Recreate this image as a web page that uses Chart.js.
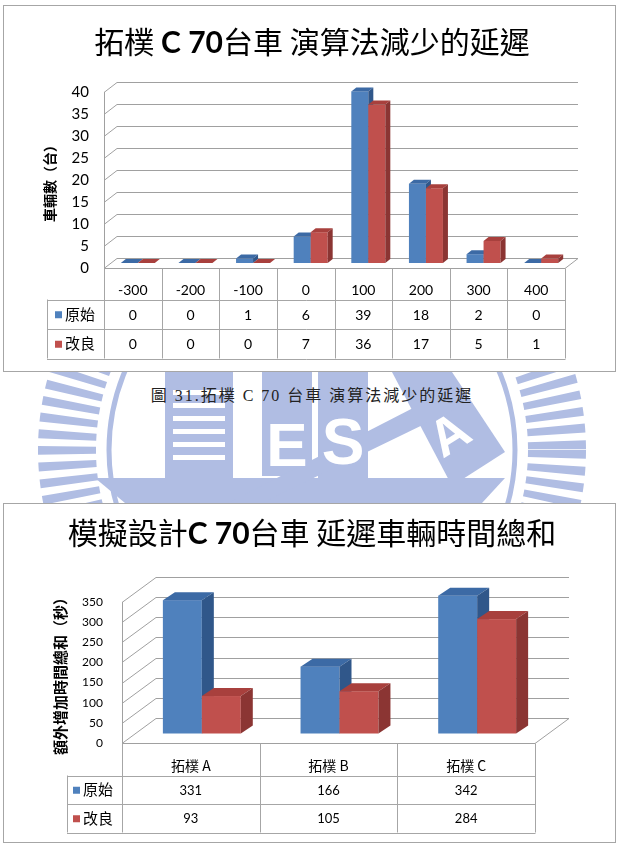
<!DOCTYPE html>
<html>
<head>
<meta charset="utf-8">
<script src="https://cdn.jsdelivr.net/npm/chart.js@4.4.1/dist/chart.umd.min.js"></script>
<style>
  body { margin: 0; width: 624px; height: 849px; position: relative; overflow: hidden; background: #fff;
         font-family: 'Noto Sans CJK TC', sans-serif; }
  #wm { position: absolute; left: 0; top: 0; z-index: 0; }
  .box { position: absolute; left: 3px; width: 613px; box-sizing: border-box; border: 1px solid #a6a6a6; background: #fff; z-index: 1; }
  canvas { position: absolute; left: 3px; z-index: 2; }
  .title { position: absolute; left: 0; width: 624px; text-align: center; font-size: 30px; line-height: 36px;
           color: #000; z-index: 3; white-space: nowrap; }
  .title b { font-family: Lato, 'Open Sans', sans-serif; font-weight: 700; }
  .caption { position: absolute; left: 0; width: 624px; top: 386px; text-align: center; font-size: 16px; line-height: 20px;
             font-family: 'Liberation Serif', 'Noto Sans CJK TC', serif; color: #222; letter-spacing: 2px; z-index: 3; }
</style>
</head>
<body>

<!-- faint school logo watermark behind the two charts -->
<svg id="wm" width="624" height="849">
  <g fill="#b0bde3">
    <circle cx="312" cy="450" r="245" fill="none" stroke="#b0bde3" stroke-width="58" stroke-dasharray="8 7"/>
    <circle cx="312" cy="450" r="203" fill="none" stroke="#b0bde3" stroke-width="5"/>
    <rect x="165" y="372" width="68" height="112"/>
    <rect x="262" y="372" width="50" height="104"/>
    <rect x="318" y="372" width="50" height="110"/>
    <polygon points="392,372 452,372 505,452 452,486"/>
    <polygon points="95,478 505,478 482,503 125,503"/>
    <polygon points="228,503 262,503 470,402 452,388"/>
  </g>
  <g fill="#fff">
    <rect x="173" y="390" width="52" height="5"/>
    <rect x="173" y="403" width="52" height="5"/>
    <rect x="173" y="416" width="52" height="5"/>
    <rect x="173" y="429" width="52" height="5"/>
    <rect x="173" y="442" width="52" height="5"/>
    <rect x="173" y="455" width="52" height="5"/>
    <text x="287" y="466" font-family="Liberation Sans" font-weight="700" font-size="62" text-anchor="middle">E</text>
    <text x="343" y="464" font-family="Liberation Sans" font-weight="700" font-size="64" text-anchor="middle">S</text>
    <text x="448" y="452" font-family="Liberation Sans" font-weight="700" font-size="52" text-anchor="middle" transform="rotate(-32 448 432)">A</text>
  </g>
</svg>

<div class="box" style="top:5px;height:367px"></div>
<div class="box" style="top:503px;height:340px"></div>
<canvas id="delayChart" width="613" height="367" style="top:5px"></canvas>
<canvas id="totalChart" width="613" height="340" style="top:503px"></canvas>
<div class="title" style="top:22px">拓樸 <b>C 70</b>台車 演算法減少的延遲</div>
<div class="title" style="top:513px">模擬設計<b>C 70</b>台車 延遲車輛時間總和</div>
<div class="caption">圖 31.拓樸 C 70 台車 演算法減少的延遲</div>

<script>
// series names
const seriesNames = ['原始', '改良'];

// chart 1: delay distribution
const delayLabels = ['-300', '-200', '-100', '0', '100', '200', '300', '400'];
const delayOriginal = [0, 0, 1, 6, 39, 18, 2, 0];
const delayImproved = [0, 0, 0, 7, 36, 17, 5, 1];

// chart 2: total delayed vehicle time
const topoLabels = ['拓樸 A', '拓樸 B', '拓樸 C'];
const topoOriginal = [331, 166, 342];
const topoImproved = [93, 105, 284];

// front / top / side colours for the 3D bars
const barColors = [
  ['#4f81bd', '#3c6aa5', '#30578a'],
  ['#c0504d', '#a8403d', '#8b3533']
];

const cjk = "'Noto Sans CJK TC', sans-serif";
const num = "Lato, 'Noto Sans CJK TC', sans-serif";

// draws the 3D walls, the extruded bars and the data table under the plot
const box3d = {
  id: 'box3d',
  beforeDatasetsDraw(chart, args, o) {
    const { ctx, chartArea: { left, right, top, bottom }, scales: { y } } = chart;
    ctx.save();
    ctx.strokeStyle = o.gridColor;
    ctx.lineWidth = 1;
    y.ticks.forEach(t => {
      const py = Math.round(y.getPixelForValue(t.value)) + 0.5;
      ctx.beginPath();
      ctx.moveTo(left, py);
      ctx.lineTo(left + o.dx, py - o.dy);
      ctx.lineTo(right + o.dx, py - o.dy);
      ctx.stroke();
    });
    const py0 = Math.round(bottom) + 0.5;
    ctx.beginPath();
    ctx.moveTo(left, py0);
    ctx.lineTo(right, py0);
    ctx.lineTo(right + o.dx, py0 - o.dy);
    ctx.stroke();
    ctx.beginPath();
    ctx.moveTo(Math.round(left) + 0.5, top);
    ctx.lineTo(Math.round(left) + 0.5, bottom);
    ctx.stroke();
    ctx.restore();
  },
  afterDatasetsDraw(chart, args, o) {
    const ctx = chart.ctx;
    ctx.save();
    chart.data.datasets.forEach((ds, i) => {
      const [front, topC, side] = barColors[i];
      chart.getDatasetMeta(i).data.forEach(el => {
        const x0 = el.x - el.width / 2 + o.fx, x1 = el.x + el.width / 2 + o.fx;
        const yt = el.y - o.fy, yb = el.base - o.fy;
        ctx.fillStyle = front;
        ctx.fillRect(x0, yt, x1 - x0, yb - yt);
        ctx.fillStyle = topC;
        ctx.beginPath();
        ctx.moveTo(x0, yt); ctx.lineTo(x0 + o.bx, yt - o.by);
        ctx.lineTo(x1 + o.bx, yt - o.by); ctx.lineTo(x1, yt);
        ctx.closePath(); ctx.fill();
        ctx.fillStyle = side;
        ctx.beginPath();
        ctx.moveTo(x1, yt); ctx.lineTo(x1 + o.bx, yt - o.by);
        ctx.lineTo(x1 + o.bx, yb - o.by); ctx.lineTo(x1, yb);
        ctx.closePath(); ctx.fill();
      });
    });
    ctx.restore();
  },
  afterDraw(chart, args, o) {
    const { ctx, chartArea: { left, right, bottom }, scales: { x } } = chart;
    const labels = chart.data.labels;
    const n = labels.length;
    const cw = (right - left) / n;
    const R = Math.round(right) + 0.5;
    const y0 = Math.round(bottom) + 0.5;
    const yh = y0 + o.headH;
    const rows = chart.data.datasets;
    const yEnd = yh + o.rowH * rows.length;
    ctx.save();
    ctx.strokeStyle = o.lineColor;
    ctx.lineWidth = 1;
    ctx.beginPath();
    for (let i = 0; i <= n; i++) {
      const bx = Math.round(left + i * cw) + 0.5;
      ctx.moveTo(bx, y0); ctx.lineTo(bx, yEnd);
    }
    ctx.moveTo(o.tableLeft + 0.5, yh); ctx.lineTo(o.tableLeft + 0.5, yEnd);
    for (let r = 0; r <= rows.length; r++) {
      const ry = Math.round(yh + r * o.rowH) + 0.5;
      ctx.moveTo(o.tableLeft, ry); ctx.lineTo(R, ry);
    }
    ctx.stroke();

    ctx.fillStyle = '#000';
    ctx.textAlign = 'center';
    ctx.textBaseline = 'middle';
    ctx.font = o.headFont;
    labels.forEach((lab, i) => ctx.fillText(lab, x.getPixelForValue(i), y0 + o.headTextY));
    rows.forEach((ds, r) => {
      const cy = yh + (r + 0.5) * o.rowH;
      ctx.font = o.cellFont;
      ctx.textAlign = 'center';
      ctx.fillStyle = '#000';
      ds.data.forEach((v, i) => ctx.fillText(String(v), x.getPixelForValue(i), cy + 1));
      ctx.fillStyle = barColors[r][0];
      ctx.fillRect(o.tableLeft + o.keyX, cy - 3, 7, 7);
      ctx.fillStyle = '#000';
      ctx.textAlign = 'left';
      ctx.font = o.nameFont;
      ctx.fillText(ds.label, o.tableLeft + o.keyX + 10, cy);
    });
    ctx.restore();
  }
};

function make3dChart(id, labels, first, second, cfg) {
  return new Chart(document.getElementById(id), {
    type: 'bar',
    data: {
      labels: labels,
      datasets: [
        { label: seriesNames[0], data: first, backgroundColor: 'rgba(0,0,0,0)', borderWidth: 0,
          categoryPercentage: cfg.catPct, barPercentage: 1 },
        { label: seriesNames[1], data: second, backgroundColor: 'rgba(0,0,0,0)', borderWidth: 0,
          categoryPercentage: cfg.catPct, barPercentage: 1 }
      ]
    },
    options: {
      responsive: false,
      animation: false,
      layout: { padding: cfg.padding },
      plugins: {
        legend: { display: false },
        tooltip: { enabled: false },
        box3d: cfg.box
      },
      scales: {
        x: { display: false, offset: true },
        y: {
          min: 0,
          max: cfg.max,
          ticks: { stepSize: cfg.step, padding: cfg.tickPad, color: '#000', font: { family: num, size: cfg.tickSize } },
          grid: { display: false, drawTicks: false },
          border: { display: false },
          title: {
            display: true,
            text: cfg.yTitle,
            color: '#000',
            font: { family: cjk, size: cfg.yTitleSize, weight: 'bold' },
            padding: { top: cfg.yTitlePad, bottom: 0 }
          },
          afterFit: s => { s.width = cfg.axisWidth; }
        }
      }
    },
    plugins: [box3d]
  });
}

make3dChart('delayChart', delayLabels, delayOriginal, delayImproved, {
  catPct: 0.59, max: 40, step: 5, tickSize: 15, tickPad: 15,
  yTitle: '車輛數（台）', yTitleSize: 14, yTitlePad: 38.6, axisWidth: 101,
  padding: { left: 0, right: 51, top: 87, bottom: 104 },
  box: {
    dx: 13, dy: 10, fx: 5, fy: 5, bx: 5, by: 4,
    gridColor: '#a0a0a0', lineColor: '#a6a6a6',
    headH: 31, rowH: 29.5, headTextY: 22, tableLeft: 44, keyX: 8,
    headFont: '14px ' + num, cellFont: '14px ' + num, nameFont: '15px ' + cjk
  }
});

make3dChart('totalChart', topoLabels, topoOriginal, topoImproved, {
  catPct: 0.566, max: 350, step: 50, tickSize: 12, tickPad: 19,
  yTitle: '額外增加時間總和（秒）', yTitleSize: 15, yTitlePad: 48, axisWidth: 119,
  padding: { left: 0, right: 81, top: 99, bottom: 100 },
  box: {
    dx: 34, dy: 25, fx: 11, fy: 9.5, bx: 12, by: 8,
    gridColor: '#a0a0a0', lineColor: '#a6a6a6',
    headH: 32, rowH: 28.5, headTextY: 22, tableLeft: 64, keyX: 6,
    headFont: '14px ' + cjk, cellFont: '13px ' + num, nameFont: '15px ' + cjk
  }
});
</script>
</body>
</html>
